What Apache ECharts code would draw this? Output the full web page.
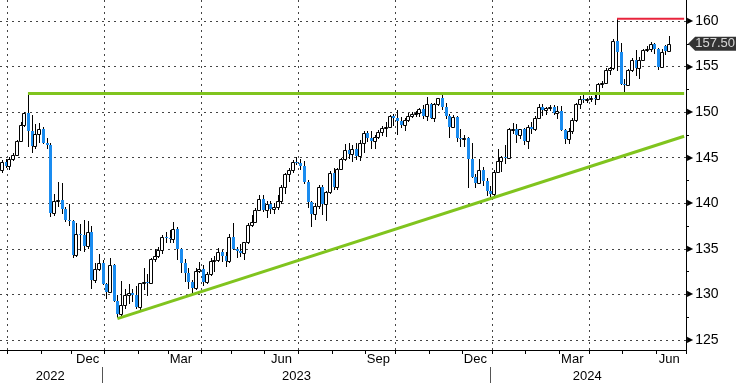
<!DOCTYPE html>
<html><head><meta charset="utf-8">
<script src="https://cdn.jsdelivr.net/npm/echarts@6/dist/echarts.min.js"></script>
<style>html,body{margin:0;padding:0;background:#fff}#c{width:736px;height:383px}</style>
</head><body><div id="c"></div>
<script>
// Bars: one per half-week (Mon-Wed, Thu-Fri), from 2022-09-26 to 2024-06-27 (axis end)
const startDate = '2022-09-26';
const endDate = '2024-06-28';
const monthNames = ['Jan','Feb','Mar','Apr','May','Jun','Jul','Aug','Sep','Oct','Nov','Dec'];
const labelMonths = [11, 2, 5, 8]; // Dec, Mar, Jun, Sep
const yTicks = [125,130,135,140,145,150,155,160];

const open = [
143.6,144.5,144.1,144.9,145.3,146.8,148.6,149.9,147.9,146.3,
147.6,148.1,146.6,146.4,138.9,140.3,140.4,139.4,138.2,138.0,
134.3,136.6,136.5,135.3,136.8,131.6,132.8,133.5,131.1,130.3,
133.2,129.3,127.9,128.8,129.9,130.2,129.9,128.6,131.2,131.4,
131.3,133.9,134.2,134.9,136.3,136.2,136.1,137.2,135.0,133.4,
132.3,131.4,130.7,132.6,132.8,131.4,132.2,133.7,133.8,134.7,
134.2,133.7,136.3,135.0,134.8,134.5,135.7,137.6,137.9,139.3,
140.5,139.3,139.9,139.4,139.6,140.3,141.8,143.2,143.7,144.5,
144.4,144.1,142.3,140.1,138.8,139.7,141.8,139.9,141.2,143.3,
141.8,143.8,144.9,145.8,145.4,146.0,145.2,146.6,147.7,147.2,
146.8,147.3,147.8,148.3,148.4,149.6,149.4,149.0,148.6,149.1,
149.6,149.8,149.9,150.3,149.6,150.9,149.4,150.9,151.5,150.6,
149.6,148.4,149.5,147.2,147.0,147.2,144.9,142.9,142.2,143.6,
142.4,141.3,141.0,143.4,144.6,145.1,145.0,148.1,148.2,147.5,
148.1,146.8,148.4,148.2,149.3,150.6,150.2,150.5,150.6,149.9,
150.1,148.0,147.1,147.9,149.1,150.9,151.4,151.3,151.4,151.6,
151.4,153.1,153.2,154.6,154.8,157.8,156.6,153.1,153.0,154.6,
155.7,154.8,155.7,156.8,156.9,157.5,156.9,155.0,157.2,156.7];
const high = [
144.8,144.9,145.1,145.5,146.9,148.9,150.0,152.0,149.7,148.7,
148.8,148.4,147.2,146.6,141.0,142.3,142.2,139.6,139.9,138.2,
137.8,137.7,138.2,138.0,137.5,133.4,134.4,133.8,131.3,134.0,
133.3,129.9,131.5,130.6,131.1,130.6,130.9,131.3,132.9,132.2,
134.0,135.0,135.2,136.5,136.9,137.1,137.9,137.4,135.1,133.9,
132.9,131.6,132.9,133.6,133.2,132.5,134.0,134.2,135.1,134.9,
134.6,136.6,137.8,135.2,135.5,135.8,137.8,138.7,139.5,140.9,
140.9,140.2,140.2,140.0,140.9,142.0,143.3,143.9,144.8,145.1,
144.9,144.6,142.5,140.3,140.0,142.0,142.0,141.3,143.5,143.9,
143.9,145.0,146.5,146.6,146.4,146.6,146.9,147.9,147.9,147.9,
147.5,148.0,148.5,148.9,149.7,149.8,150.2,149.5,149.3,149.9,
150.0,150.1,150.5,150.8,151.7,151.0,151.0,151.6,151.9,151.0,
149.8,149.7,149.6,148.1,147.5,147.3,146.6,143.2,144.9,144.0,
142.8,141.9,143.7,145.9,145.2,146.4,148.3,148.8,148.7,148.2,
148.3,148.6,148.9,149.6,150.9,150.9,150.6,150.8,150.8,150.7,
150.7,148.2,148.3,149.4,151.0,151.8,151.9,151.6,151.8,151.9,
153.2,153.4,154.8,155.0,158.0,160.2,157.6,153.6,154.7,155.9,
156.8,156.0,156.9,157.2,157.7,157.6,157.0,156.9,157.4,158.3];
const low = [
143.3,143.9,143.7,144.6,145.3,146.7,148.4,146.2,145.5,145.9,
146.6,146.5,146.0,138.5,138.6,139.6,138.8,137.9,137.5,134.0,
134.1,134.8,134.7,135.0,130.6,131.2,132.6,131.0,129.5,130.2,
129.2,127.4,127.6,128.4,129.0,129.2,128.4,128.1,130.5,129.8,
131.2,133.6,134.0,134.4,135.6,135.6,135.6,133.8,132.3,131.4,
130.6,130.0,130.5,132.3,130.9,131.1,132.0,132.5,133.6,133.6,
133.0,133.4,134.9,134.0,134.1,133.8,135.5,137.4,137.8,139.1,
139.0,138.4,138.8,138.8,139.3,139.9,141.0,142.3,143.3,144.2,
143.6,142.1,139.5,137.4,138.2,139.4,138.7,138.0,141.0,141.5,
141.5,143.6,144.6,144.9,144.5,144.8,144.6,145.5,146.7,145.9,
145.9,147.0,147.4,147.3,148.3,148.5,147.5,148.3,147.9,148.9,
149.3,149.5,149.5,149.2,149.0,149.2,148.9,150.7,150.2,149.2,
147.2,148.3,146.7,146.2,146.2,141.7,142.8,141.7,142.1,141.9,
140.8,140.55,140.8,143.3,143.4,144.3,144.9,147.6,146.6,147.1,
146.4,145.9,147.6,147.9,149.2,149.6,149.7,150.1,149.7,149.2,
147.9,146.5,146.5,147.6,148.9,150.3,151.0,151.0,151.1,150.8,
151.4,152.7,153.1,154.1,154.6,154.5,153.0,152.1,152.9,154.4,
154.0,153.6,155.6,156.6,156.6,156.4,154.6,154.8,156.3,156.6];
const close = [
144.5,144.1,144.9,145.3,146.8,148.6,149.9,147.9,146.3,147.6,
148.1,146.6,146.4,138.9,140.3,140.4,139.4,138.2,138.0,134.3,
136.6,136.5,135.3,136.8,131.6,132.8,133.5,131.1,130.3,133.2,
129.3,127.9,128.8,129.9,130.2,129.9,128.6,131.2,131.4,131.3,
133.9,134.2,134.9,136.3,136.2,136.1,137.2,135.0,133.4,132.3,
131.4,130.7,132.6,132.8,131.4,132.2,133.7,133.8,134.7,134.2,
133.7,136.3,135.0,134.8,134.5,135.7,137.6,137.9,139.3,140.5,
139.3,139.9,139.4,139.6,140.3,141.8,143.2,143.7,144.5,144.4,
144.1,142.3,140.1,138.8,139.7,141.8,139.9,141.2,143.3,141.8,
143.8,144.9,145.8,145.4,146.0,145.2,146.6,147.7,147.2,146.8,
147.3,147.8,148.3,148.4,149.6,149.4,149.0,148.6,149.1,149.6,
149.8,149.9,150.3,149.6,150.9,149.4,150.9,151.5,150.6,149.6,
148.4,149.5,147.2,147.0,147.2,144.9,142.9,142.2,143.6,142.4,
141.3,141.0,143.4,144.6,145.1,145.0,148.1,148.2,147.5,148.1,
146.8,148.4,148.2,149.3,150.6,150.2,150.5,150.6,149.9,150.1,
148.0,147.1,147.9,149.1,150.9,151.4,151.3,151.4,151.6,151.4,
153.1,153.2,154.6,154.8,157.8,156.6,153.1,153.0,154.6,155.7,
154.8,155.7,156.8,156.9,157.5,156.9,155.0,156.6,156.7,157.5];

const lastPrice = 157.50;
const resistanceLine = [['2022-10-20', 152.05], ['2024-06-27', 152.05]];
const supportLine = [['2023-01-12', 127.35], ['2024-06-27', 147.35]];
const peakLine = [['2024-04-25', 160.25], ['2024-06-27', 160.25]];

// ---- build category list (Mon & Thu) ----
const categories = [];
(function () {
  let d = new Date(startDate + 'T00:00:00Z');
  const e = new Date(endDate + 'T00:00:00Z');
  let step = 3;
  while (d <= e) {
    categories.push(d.toISOString().slice(0, 10));
    d = new Date(d.getTime() + step * 86400000);
    step = step === 3 ? 4 : 3;
  }
})();

const mon = i => +categories[i].slice(5, 7) - 1;
const day = i => +categories[i].slice(8, 10);
const yr = i => +categories[i].slice(0, 4);
const isMonthStart = i => i > 0 && i < categories.length && mon(i) !== mon(i - 1);
const isQuarterStart = i => isMonthStart(i) && mon(i) % 3 === 0;
const isYearStart = i => isMonthStart(i) && mon(i) === 0;
const isMonthLabel = i => i > 0 && labelMonths.includes(mon(i)) && day(i) >= 13 &&
  (mon(i - 1) !== mon(i) || day(i - 1) < 13);
const yearLabelIdx = [];
(function () {
  let first = 0;
  for (let i = 1; i <= categories.length; i++) {
    if (i === categories.length || yr(i) !== yr(i - 1)) {
      yearLabelIdx.push(Math.floor((first + i) / 2 - 0.5));
      first = i;
    }
  }
})();

const candleData = close.map((c, i) => [i, open[i], c, low[i], high[i]]);

const FONT = "'Liberation Sans Narrow','Liberation Sans',Arial,sans-serif";
const BLUE = '#1a8cf0';
const GREEN = '#80c41e';
const GRID = '#444';

function renderCandle(params, api) {
  const i = api.value(0);
  const o = api.value(1), c = api.value(2), l = api.value(3), h = api.value(4);
  const pO = api.coord([i, o]), pC = api.coord([i, c]);
  const yH = api.coord([i, h])[1], yL = api.coord([i, l])[1];
  const cx = Math.round(pO[0]);
  const up = c >= o;
  const top = Math.round(Math.min(pO[1], pC[1]));
  const bot = Math.round(Math.max(pO[1], pC[1]));
  const children = [{
    type: 'line',
    shape: { x1: cx + 0.5, y1: Math.round(yH), x2: cx + 0.5, y2: Math.round(yL) },
    style: { stroke: '#000', lineWidth: 1 }
  }];
  if (up) {
    children.push({ type: 'rect', shape: { x: cx - 1.5, y: top + 0.5, width: 3, height: Math.max(bot - top, 1) },
      style: { fill: '#fff', stroke: '#000', lineWidth: 1 } });
  } else {
    children.push({ type: 'rect', shape: { x: cx - 1, y: top, width: 3, height: Math.max(bot - top, 1) },
      style: { fill: BLUE } });
  }
  return { type: 'group', children };
}

const chart = echarts.init(document.getElementById('c'), null, { renderer: 'canvas' });
chart.setOption({
  animation: false,
  backgroundColor: '#fff',
  textStyle: { fontFamily: FONT },
  grid: { left: 0, right: 50, top: 0, bottom: 33, containLabel: false, outerBoundsMode: 'none' },
  xAxis: [{
    type: 'category', data: categories, boundaryGap: true, position: 'bottom',
    axisLine: { show: true, onZero: false, lineStyle: { color: '#000', width: 1 } },
    axisTick: { show: true, length: 4, interval: i => isMonthStart(i), lineStyle: { color: '#000' } },
    axisLabel: { interval: i => isMonthLabel(i), formatter: v => monthNames[+v.slice(5, 7) - 1],
      color: '#000', fontSize: 13, fontFamily: FONT, margin: 3 },
    splitLine: { show: true, interval: i => isQuarterStart(i), lineStyle: { color: GRID, type: [2, 4], width: 1 } }
  }, {
    type: 'category', data: categories, boundaryGap: true, position: 'bottom', offset: 17,
    axisLine: { show: false },
    axisTick: { show: true, alignWithLabel: true, length: 16, interval: i => isYearStart(i + 1), lineStyle: { color: '#555' } },
    axisLabel: { interval: i => yearLabelIdx.includes(i), formatter: v => v.slice(0, 4),
      color: '#000', fontSize: 13, fontFamily: FONT, margin: 3 },
    splitLine: { show: false }
  }],
  yAxis: {
    type: 'value', position: 'right', min: 123.9, max: 162.3, splitNumber: 8,
    axisLine: { show: true, lineStyle: { color: '#000' } },
    axisTick: { show: false },
    minorTick: { show: true, splitNumber: 2, length: 3, lineStyle: { color: '#000' } },
    splitLine: { show: true, showMinLine: false, showMaxLine: false, lineStyle: { color: GRID, type: [2, 4], width: 1 } },
    axisLabel: {
      margin: 1, showMinLabel: false, showMaxLabel: false,
      formatter: v => yTicks.includes(Math.round(v * 100) / 100) ? '{t|▶}{n|' + v + '}' : '',
      rich: {
        t: { fontSize: 8, color: '#000', fontFamily: 'DejaVu Sans', padding: [0, 2, 0, 0] },
        n: { fontSize: 14, color: '#000', fontFamily: FONT }
      }
    }
  },
  series: [{
    type: 'custom', renderItem: renderCandle, data: candleData,
    encode: { x: 0, y: [1, 2, 3, 4] }, silent: true, z: 2
  }, {
    type: 'line', data: resistanceLine, symbol: 'none', silent: true, z: 5,
    lineStyle: { color: GREEN, width: 3 }
  }, {
    type: 'line', data: supportLine, symbol: 'none', silent: true, z: 5,
    lineStyle: { color: GREEN, width: 3 }
  }, {
    type: 'line', data: peakLine, symbol: 'none', silent: true, z: 5,
    lineStyle: { color: '#e8243c', width: 2 }
  }, {
    type: 'scatter', data: [[categories[categories.length - 1], lastPrice]], clip: false, silent: true, z: 10,
    symbol: 'path://M0,7L7,0L48,0L48,14L7,14Z', symbolSize: [48, 14], symbolKeepAspect: false,
    symbolOffset: [28, 0], itemStyle: { color: '#000' },
    label: { show: true, position: 'inside', formatter: () => lastPrice.toFixed(2), color: '#fff',
      fontSize: 13, fontFamily: FONT, offset: [3, 0] }
  }]
});
</script>
</body></html>
